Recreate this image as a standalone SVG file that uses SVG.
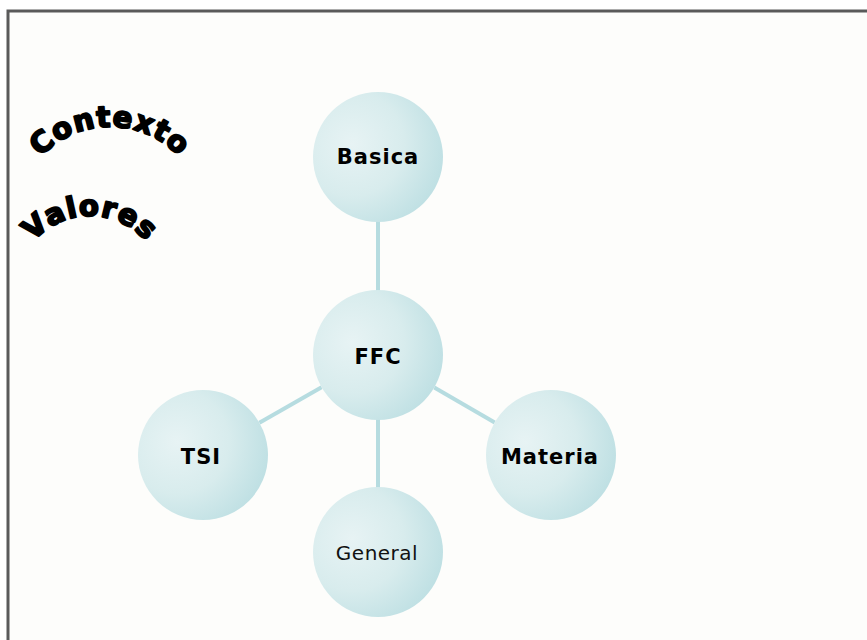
<svg xmlns="http://www.w3.org/2000/svg" width="867" height="640" viewBox="0 0 867 640">
<defs>
<radialGradient id="ball" cx="0.3" cy="0.4" r="0.8" fx="0.3" fy="0.4">
<stop offset="0" stop-color="#e7f3f4"/>
<stop offset="0.5" stop-color="#d8eced"/>
<stop offset="1" stop-color="#b9dde1"/>
</radialGradient>
<path id="arcC" d="M 20.7,189.5 A 95,95 0 0 1 199.3,189.5"/>
<path id="arcV" d="M 19.5,265.3 A 75,75 0 0 1 160.5,265.3"/>
</defs>
<style>
.node{fill:url(#ball);}
.lbl{font-family:"DejaVu Sans","Verdana",sans-serif;font-size:21px;font-weight:bold;fill:#000;text-anchor:middle;letter-spacing:1px;}
.lbln{font-family:"DejaVu Sans","Verdana",sans-serif;font-size:20px;fill:#111;text-anchor:middle;letter-spacing:0.5px;}
.conn{stroke:#b6dce0;stroke-width:4;fill:none;}
.art{font-family:"DejaVu Sans",sans-serif;font-weight:bold;fill:#000;stroke:#000;stroke-width:2;stroke-linejoin:round;}
</style>
<rect x="0" y="0" width="867" height="640" fill="#ffffff"/>
<rect x="8" y="11" width="870" height="640" fill="#fdfdfb" stroke="#5a5a5a" stroke-width="3"/>
<g id="wordart">
<text class="art" font-size="29" letter-spacing="1"><textPath href="#arcC" startOffset="50%" text-anchor="middle">Contexto</textPath></text>
<text class="art" font-size="29" letter-spacing="1"><textPath href="#arcV" startOffset="50%" text-anchor="middle">Valores</textPath></text>
</g>
<g id="connectors">
<line class="conn" x1="378" y1="220" x2="378" y2="292"/>
<line class="conn" x1="378" y1="418" x2="378" y2="489"/>
<line class="conn" x1="321.6" y1="387.2" x2="259.4" y2="422.8"/>
<line class="conn" x1="434.3" y1="387.5" x2="494.7" y2="422.5"/>
</g>
<g id="basica"><circle class="node" cx="378" cy="157" r="65"/><text class="lbl" x="378" y="164">Basica</text></g>
<g id="ffc"><circle class="node" cx="378" cy="355" r="65"/><text class="lbl" x="378" y="364" letter-spacing="2">FFC</text></g>
<g id="tsi"><circle class="node" cx="203" cy="455" r="65"/><text class="lbl" x="201" y="464">TSI</text></g>
<g id="materia"><circle class="node" cx="551" cy="455" r="65"/><text class="lbl" x="550" y="464">Materia</text></g>
<g id="general"><circle class="node" cx="378" cy="552" r="65"/><text class="lbln" x="377" y="560">General</text></g>
</svg>
